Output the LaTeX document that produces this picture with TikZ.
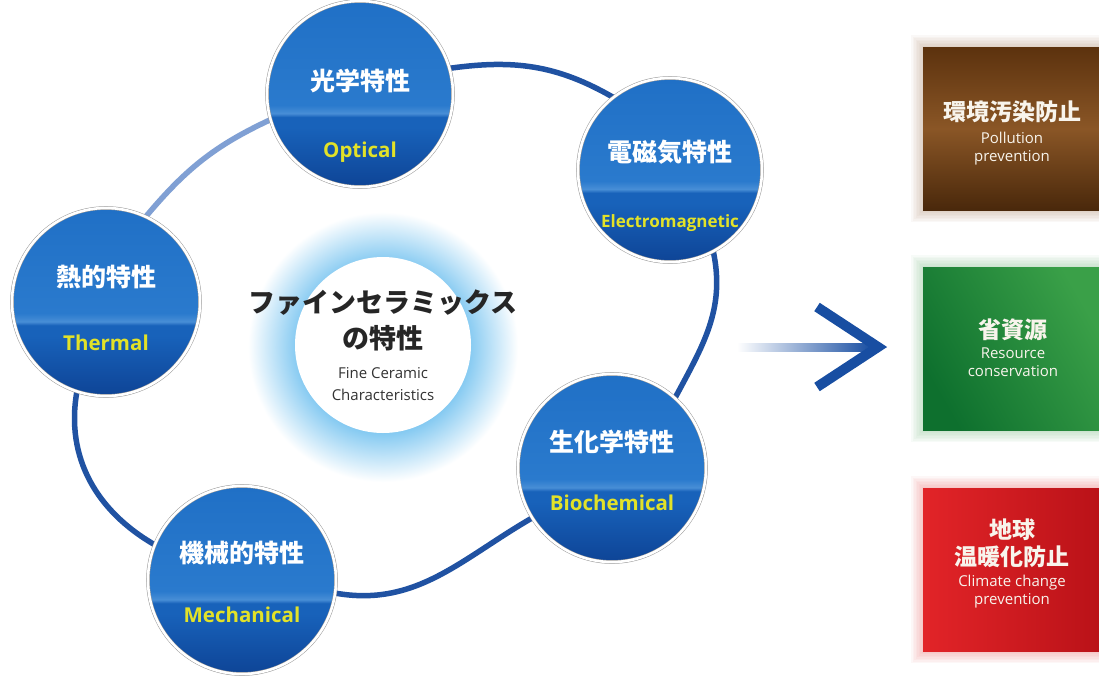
\documentclass[tikz,border=0pt]{standalone}
\usepackage{fontspec}
\setmainfont{Open Sans}
\newfontfamily\jp{Noto Sans CJK JP}
\usetikzlibrary{calc}
\definecolor{linkblue}{RGB}{32,82,162}
\definecolor{linklight}{RGB}{128,160,212}
\definecolor{enyellow}{RGB}{226,226,40}
\definecolor{glowblue}{RGB}{120,196,240}
\definecolor{orbtop}{RGB}{32,112,198}
\definecolor{orbtopb}{RGB}{42,122,205}
\definecolor{orbhigh}{RGB}{72,142,214}
\definecolor{orbmid}{RGB}{24,98,186}
\definecolor{orbbot}{RGB}{14,68,150}
\definecolor{arrowblue}{RGB}{24,78,162}
\definecolor{brownA}{RGB}{92,50,14}
\definecolor{brownB}{RGB}{138,86,38}
\definecolor{greenA}{RGB}{58,160,72}
\definecolor{greenB}{RGB}{14,112,46}
\definecolor{redA}{RGB}{226,36,40}
\definecolor{redB}{RGB}{186,18,24}
\definecolor{boxtext}{RGB}{248,244,236}
\pgfdeclareverticalshading{orb}{100bp}{color(0bp)=(orbbot); color(25bp)=(orbbot); color(41bp)=(orbmid); color(43.8bp)=(orbmid); color(44.8bp)=(orbhigh); color(47bp)=(orbtopb); color(75bp)=(orbtop); color(100bp)=(orbtop)}
\pgfdeclareradialshading{glow}{\pgfpointorigin}{color(0bp)=(glowblue); color(15bp)=(glowblue); color(25bp)=(white); color(50bp)=(white)}
\tikzset{
  orbspot/.style={circle, minimum size=#1, inner sep=0pt},
  orbnode/.style={circle, shading=orb, minimum size=#1, inner sep=0pt,
    draw=gray!80, double=white, double distance=2.6pt, line width=0.5pt},
  jpw/.style={font=\jp\bfseries\fontsize{25}{28}\selectfont, text=white, inner sep=0pt},
  enl/.style={font=\bfseries\fontsize{20.5}{22}\selectfont, text=enyellow, inner sep=0pt},
  link/.style={line width=5.5pt, draw=linkblue},
  boxjp/.style={font=\jp\bfseries\fontsize{23}{27}\selectfont, text=boxtext, inner sep=0pt, align=center},
  boxen/.style={font=\fontsize{15}{18}\selectfont, text=boxtext, inner sep=0pt, align=center},
  cjp/.style={font=\jp\bfseries\fontsize{27}{34}\selectfont, text=black!85, inner sep=0pt, align=center},
  cen/.style={font=\fontsize{15}{22}\selectfont, text=black!80, inner sep=0pt, align=center},
}
\begin{document}
\begin{tikzpicture}[x=1pt,y=1pt]
\useasboundingbox (0,0) rectangle (1099,-675);
\fill[white] (0,0) rectangle (1099,-675);

% center glow and white circle
\shade[shading=glow] (383,-347) circle (135);
\node[circle, fill=white, minimum size=176, inner sep=0pt] (core) at (383,-345) {};

% orb positions
\node[orbspot=186] (opt) at (360,-94) {};
\node[orbspot=184] (em) at (670,-170) {};
\node[orbspot=188] (therm) at (106,-302) {};
\node[orbspot=188] (bio) at (612,-468) {};
\node[orbspot=188] (mech) at (242,-580) {};

% connectors
\draw[link] (opt.16) to[out=8, in=150] (em.128);
\draw[link] (em.-62) to[out=-78, in=62] (bio.48);
\draw[link] (bio.212) to[out=210, in=-10] (mech.-8);
\draw[link] (mech.158) to[out=150, in=-100] (therm.-108);
\draw[link, draw=linklight] (therm.65) to[out=50, in=205] (opt.196);

% orbs
\node[orbnode=186] (optO) at (opt) {};
\node[orbnode=184] (emO) at (em) {};
\node[orbnode=188] (thermO) at (therm) {};
\node[orbnode=188] (bioO) at (bio) {};
\node[orbnode=188] (mechO) at (mech) {};

% orb labels
\node[jpw] (optj) at (360,-81) {光学特性};
\node[enl] (opte) at (360,-152) {Optical};
\node[jpw] (emj) at (670,-152) {電磁気特性};
\node[enl, font=\bfseries\fontsize{17}{19}\selectfont] (eme) at (670,-223) {Electromagnetic};
\node[jpw] (thj) at (106,-277) {熱的特性};
\node[enl] (the) at (106,-343) {Thermal};
\node[jpw] (bij) at (612,-442) {生化学特性};
\node[enl] (bie) at (612,-503) {Biochemical};
\node[jpw] (mej) at (242,-553) {機械的特性};
\node[enl] (mee) at (242,-615) {Mechanical};

% center labels
\node[cjp] (cj1) at (383,-303) {ファインセラミックス};
\node[cjp] (cj2) at (383,-338) {の特性};
\node[cen] (ce) at (383,-384) {Fine Ceramic\\Characteristics};

% arrow
\coordinate (arrS) at (737,-347);
\coordinate (arrT) at (878,-347);
\coordinate (arrU) at (817,-307);
\coordinate (arrL) at (817,-387);
\shade[left color=white, right color=arrowblue] ($(arrS)+(0,-4)$) rectangle ($(arrT)+(-6,4)$);
\draw[arrowblue, line width=10pt, miter limit=10] (arrU) -- (arrT) -- (arrL);

% boxes with soft glow
\foreach \yt/\yb/\cb in {-47/-210/brownB, -267/-430/greenA, -488/-651/redA}{
  \foreach \g in {12,10.5,...,1.5}{
    \fill[\cb!70!white, opacity=0.05] (923-\g,\yt+\g) rectangle (1099+\g,\yb-\g);
  }
}
\shade[top color=brownA, bottom color=brownA!80!black, middle color=brownB] (923,-47) rectangle (1099,-210);
\shade[left color=greenA, right color=greenB, shading angle=-60] (923,-267) rectangle (1099,-430);
\shade[left color=redA, right color=redB] (923,-488) rectangle (1099,-651);

\node[boxjp] (pj) at (1012,-112) {環境汚染防止};
\node[boxen] (pe) at (1012,-149) {Pollution\\prevention};
\node[boxjp] (rj) at (1013,-330) {省資源};
\node[boxen] (re) at (1013,-362) {Resource\\conservation};
\node[boxjp] (cjA) at (1012,-543) {地球\\温暖化防止};
\node[boxen] (cjB) at (1012,-592) {Climate change\\prevention};
\end{tikzpicture}
\end{document}
